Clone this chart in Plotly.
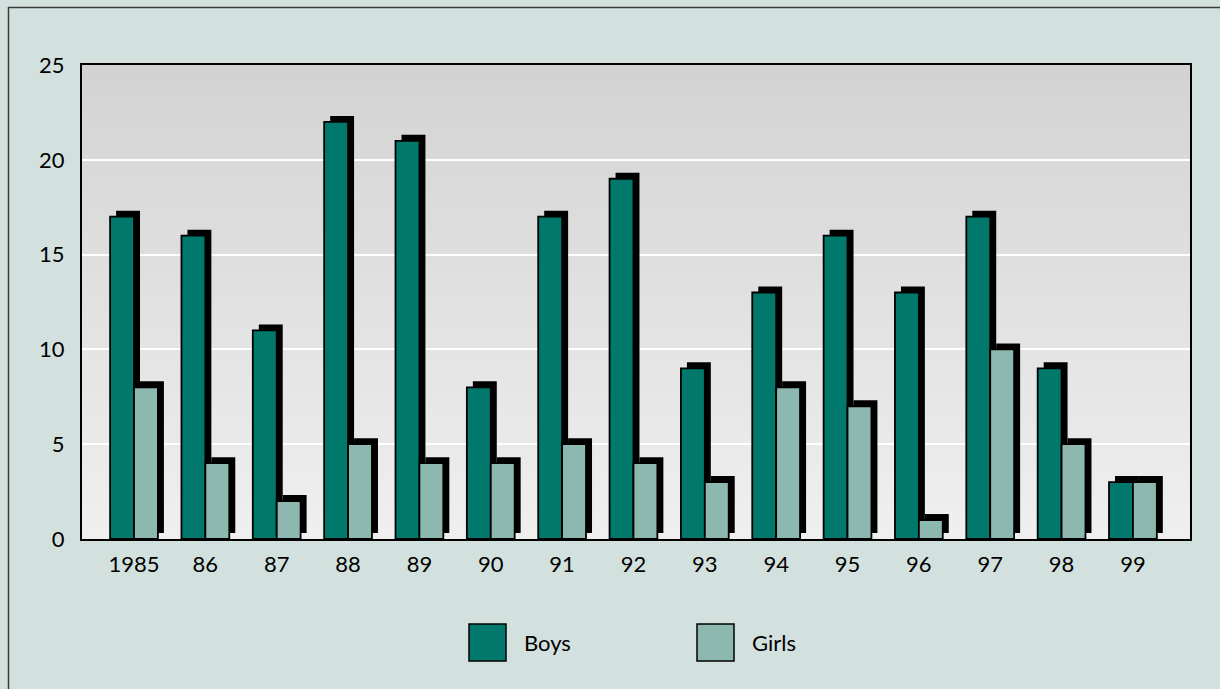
import plotly.graph_objects as go

years = ["1985", "86", "87", "88", "89", "90", "91", "92", "93", "94", "95", "96", "97", "98", "99"]
boys = [17, 16, 11, 22, 21, 8, 17, 19, 9, 13, 16, 13, 17, 9, 3]
girls = [8, 4, 2, 5, 4, 4, 5, 4, 3, 8, 7, 1, 10, 5, 3]
y_ticks = [0, 5, 10, 15, 20, 25]

BOYS_C = "#00786c"
GIRLS_C = "#8cb8b0"
BG = "#d3e1de"
FONT = "Lato, 'Open Sans', sans-serif"

W, H = 1220, 689
L, R, T, B = 82, 30, 65, 150
pw, ph = W - L - R, H - T - B
n = len(years)
x_lo, x_hi = -0.729, 14.8
cat_px = pw / (x_hi - x_lo)
shift_px = 6
dx = shift_px / cat_px
dy = shift_px / (ph / 25)

fig = go.Figure()

# shadow bars (base axes, shifted)
for vals in (boys, girls):
    fig.add_trace(go.Bar(x=years, y=vals, marker=dict(color="black", line=dict(width=0)),
                         showlegend=False, hoverinfo="skip", xaxis="x", yaxis="y"))
# main bars (overlaying axes)
fig.add_trace(go.Bar(x=years, y=boys, name="Boys",
                     marker=dict(color=BOYS_C, line=dict(color="black", width=1.8)),
                     showlegend=False, xaxis="x2", yaxis="y2"))
fig.add_trace(go.Bar(x=years, y=girls, name="Girls",
                     marker=dict(color=GIRLS_C, line=dict(color="black", width=1.8)),
                     showlegend=False, xaxis="x2", yaxis="y2"))

shapes = []
# gradient background
nstr = 60
c_top, c_bot = (211, 211, 211), (239, 239, 239)
for i in range(nstr):
    f = i / (nstr - 1)
    c = tuple(round(c_bot[k] + (c_top[k] - c_bot[k]) * f) for k in range(3))
    shapes.append(dict(type="rect", xref="paper", yref="paper", x0=0, x1=1,
                       y0=i / nstr, y1=(i + 1) / nstr + 0.002, layer="below",
                       fillcolor="rgb(%d,%d,%d)" % c, line=dict(width=0)))
# outer border (top and left)
def px_x(x): return (x - L) / pw
def px_y(y): return (H - B - y) / ph
shapes.append(dict(type="line", xref="paper", yref="paper", x0=px_x(8), x1=px_x(W + 2),
                   y0=px_y(7.5), y1=px_y(7.5), line=dict(color="#3a3a3a", width=1.5)))
shapes.append(dict(type="line", xref="paper", yref="paper", x0=px_x(8.5), x1=px_x(8.5),
                   y0=px_y(7), y1=px_y(H + 2), line=dict(color="#3a3a3a", width=1.5)))
# legend boxes
legend_items = [("Boys", BOYS_C, 469), ("Girls", GIRLS_C, 697)]
annotations = []
for name, col, x0 in legend_items:
    shapes.append(dict(type="rect", xref="paper", yref="paper",
                       x0=px_x(x0), x1=px_x(x0 + 37), y0=px_y(661), y1=px_y(624),
                       fillcolor=col, line=dict(color="black", width=1.5)))
    annotations.append(dict(text=name, xref="paper", yref="paper", x=px_x(x0 + 53), y=px_y(642),
                            xanchor="left", yanchor="middle", showarrow=False,
                            font=dict(family=FONT, size=22, color="black")))

fig.update_layout(
    width=W, height=H,
    margin=dict(l=L, r=R, t=T, b=B),
    paper_bgcolor=BG,
    plot_bgcolor="rgba(0,0,0,0)",
    barmode="group", bargap=0.33, bargroupgap=0,
    font=dict(family=FONT, size=22, color="black"),
    shapes=shapes, annotations=annotations,
    xaxis=dict(range=[x_lo - dx, x_hi - dx], visible=False, fixedrange=True),
    yaxis=dict(range=[-dy, 25 - dy], visible=False, fixedrange=True),
    xaxis2=dict(overlaying="x", range=[x_lo, x_hi], showline=True, mirror=True,
                linecolor="black", linewidth=2, showgrid=False, ticks="",
                ticklabelstandoff=5, tickfont=dict(size=22), fixedrange=True),
    yaxis2=dict(overlaying="y", range=[0, 25], tickvals=y_ticks, showline=True, mirror=True,
                linecolor="black", linewidth=2, showgrid=True, gridcolor="white", gridwidth=2,
                zeroline=False, ticks="", ticklabelstandoff=11, tickfont=dict(size=22),
                fixedrange=True),
)

fig.write_html("out.html", config={"displayModeBar": False},
               post_script="document.body.style.margin='0';document.body.style.overflow='hidden';")
